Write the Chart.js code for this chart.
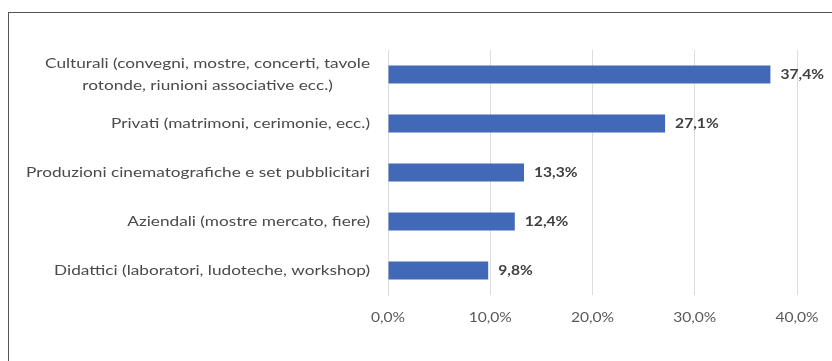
<!DOCTYPE html>
<html>
<head>
<meta charset="utf-8">
<script src="https://cdn.jsdelivr.net/npm/chart.js@4/dist/chart.umd.min.js"></script>
<style>
  html, body { margin: 0; padding: 0; background: #fff; overflow: hidden; }
  #wrap { position: relative; width: 832px; height: 361px; }
  #frame {
    position: absolute; left: 8px; top: 12px; width: 900px; height: 400px;
    border: 1px solid #555; box-sizing: border-box;
  }
  canvas { position: absolute; left: 0; top: 0; }
</style>
</head>
<body>
<div id="wrap">
  <div id="frame"></div>
  <canvas id="myChart" width="832" height="361"></canvas>
</div>
<script>
const categorie = [
  ["Culturali (convegni, mostre, concerti, tavole", "rotonde, riunioni associative ecc.)"],
  ["Privati (matrimoni, cerimonie, ecc.)"],
  ["Produzioni cinematografiche e set pubblicitari"],
  ["Aziendali (mostre mercato, fiere)"],
  ["Didattici (laboratori, ludoteche, workshop)"]
];
const percentuali = [37.4, 27.1, 13.3, 12.4, 9.8];
const tickAsse = [0, 10, 20, 30, 40];

const FONT = "Lato";
const formatta = (v) => v.toFixed(1).replace(".", ",") + "%";

// scrive un testo allargato orizzontalmente (effetto Calibri largo)
const scrivi = (ctx, testo, x, y, align, stira) => {
  ctx.save();
  ctx.translate(x, y);
  ctx.scale(stira, 1);
  ctx.textAlign = align;
  ctx.fillText(testo, 0, 0);
  ctx.restore();
};

// etichette delle categorie: blocco allineato a destra, righe centrate nel blocco
const etichetteCategorie = {
  id: "etichetteCategorie",
  afterDraw(chart) {
    const { ctx, chartArea, scales: { y } } = chart;
    const stira = 1.23;
    ctx.save();
    ctx.font = "14px " + FONT;
    ctx.fillStyle = "#4a4a4a";
    ctx.textBaseline = "middle";
    const lineH = 22;
    categorie.forEach((righe, i) => {
      const cy = y.getPixelForValue(i);
      const largo = Math.max(...righe.map((r) => ctx.measureText(r).width)) * stira;
      const cx = chartArea.left - 18 - largo / 2;
      righe.forEach((r, k) => {
        scrivi(ctx, r, cx, cy + (k - (righe.length - 1) / 2) * lineH, "center", stira);
      });
    });
    ctx.restore();
  }
};

// etichette dell'asse x
const etichetteAsse = {
  id: "etichetteAsse",
  afterDraw(chart) {
    const { ctx, chartArea, scales: { x } } = chart;
    ctx.save();
    ctx.font = "13px " + FONT;
    ctx.fillStyle = "#5a5a5a";
    ctx.textBaseline = "middle";
    tickAsse.forEach((v) => {
      scrivi(ctx, formatta(v), x.getPixelForValue(v), chartArea.bottom + 23, "center", 1.2);
    });
    ctx.restore();
  }
};

// valore percentuale a destra di ogni barra
const etichetteValori = {
  id: "etichetteValori",
  afterDatasetsDraw(chart) {
    const { ctx } = chart;
    const meta = chart.getDatasetMeta(0);
    ctx.save();
    ctx.font = "bold 13px " + FONT;
    ctx.fillStyle = "#404040";
    ctx.textBaseline = "middle";
    meta.data.forEach((bar, i) => {
      scrivi(ctx, formatta(percentuali[i]), bar.x + 10, bar.y, "left", 1.2);
    });
    ctx.restore();
  }
};

const ctx = document.getElementById("myChart").getContext("2d");
const myChart = new Chart(ctx, {
  type: "bar",
  data: {
    labels: categorie.map((c) => c.join(" ")),
    datasets: [{
      data: percentuali,
      backgroundColor: "#4169B8",
      borderWidth: 0,
      barPercentage: 0.37,
      categoryPercentage: 1
    }]
  },
  options: {
    indexAxis: "y",
    responsive: false,
    animation: false,
    events: [],
    layout: { padding: { left: 0, right: 35, top: 50, bottom: 26 } },
    plugins: { legend: { display: false }, tooltip: { enabled: false } },
    scales: {
      x: {
        min: 0,
        max: 40,
        afterBuildTicks: (scale) => { scale.ticks = tickAsse.map((v) => ({ value: v })); },
        afterFit: (scale) => { scale.height = 40; },
        grid: { color: "#dcdcdc", drawTicks: false },
        border: { display: false },
        ticks: { display: false }
      },
      y: {
        afterFit: (scale) => { scale.width = 388; },
        grid: { display: false },
        border: { display: true, color: "#dcdcdc" },
        ticks: { display: false }
      }
    }
  },
  plugins: [etichetteCategorie, etichetteAsse, etichetteValori]
});
</script>
</body>
</html>
